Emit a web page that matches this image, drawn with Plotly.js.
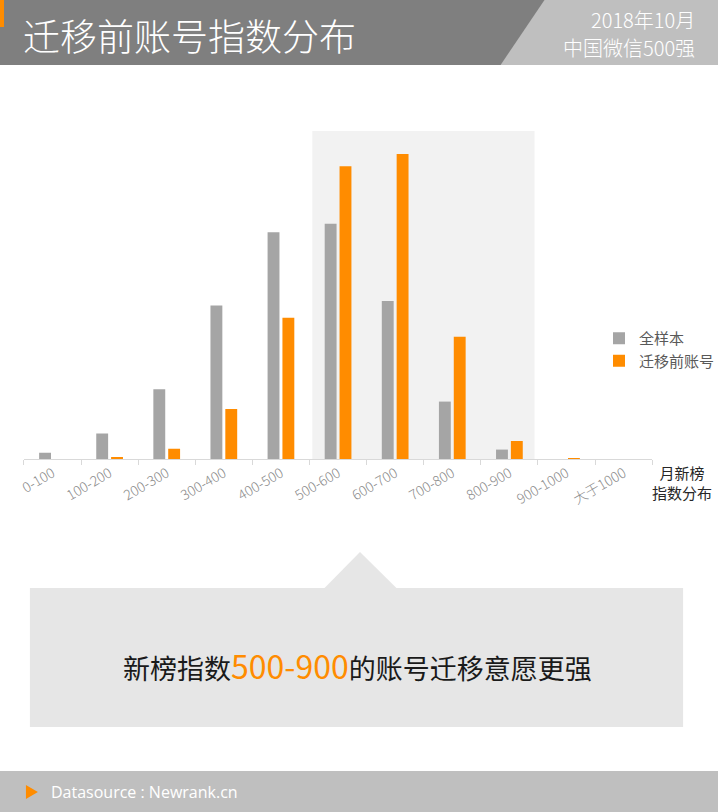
<!DOCTYPE html>
<html>
<head>
<meta charset="utf-8">
<script src="https://cdn.plot.ly/plotly-3.0.1.min.js"></script>
<style>
  html, body { margin: 0; padding: 0; background: #fff; overflow: hidden; }
  #chart { width: 720px; height: 812px; }
</style>
</head>
<body>
<div id="chart"></div>
<script>
// share of accounts by 新榜 index band (%)
const bands = ["0-100", "100-200", "200-300", "300-400", "400-500", "500-600",
               "600-700", "700-800", "800-900", "900-1000", "大于1000"];
const allSample = [0.67, 2.7, 7.4, 16.3, 24.1, 25.0, 16.8, 6.1, 1.0, 0, 0];
const migrated = [0, 0.2, 1.1, 5.3, 15.0, 31.1, 32.4, 13.0, 1.9, 0.1, 0];
const seriesNames = ["全样本", "迁移前账号"];

const W = 720, H = 812;
const px = x => x / W;
const py = y => 1 - y / H;

const cjk = '"Noto Sans CJK SC", "Microsoft YaHei", sans-serif';

const data = [
  {
    type: "bar", name: seriesNames[0], x: bands, y: allSample,
    marker: {color: "#a5a5a5"}, hoverinfo: "x+y"
  },
  {
    type: "bar", name: seriesNames[1], x: bands, y: migrated,
    marker: {color: "#ff8c00"}, hoverinfo: "x+y"
  }
];

// header / callout / footer decorations in paper coordinates
const poly = (pts) => "M " + pts.map(p => px(p[0]) + "," + py(p[1])).join(" L ") + " Z";

const shapes = [
  // highlighted bands 500-900
  {type: "rect", xref: "x", yref: "y", x0: 4.55, x1: 8.44, y0: 0, y1: 34.85,
   fillcolor: "#f2f2f2", line: {width: 0}, layer: "below"},
  // header
  {type: "rect", xref: "paper", yref: "paper", x0: 0, x1: 1, y0: py(65), y1: 1,
   fillcolor: "#7f7f7f", line: {width: 0}, layer: "below"},
  {type: "path", xref: "paper", yref: "paper",
   path: poly([[546, 0], [720, 0], [720, 65], [502, 65]]),
   fillcolor: "#bfbfbf", line: {width: 0}, layer: "below"},
  {type: "rect", xref: "paper", yref: "paper", x0: 0, x1: px(4), y0: py(27), y1: 1,
   fillcolor: "#ff8c00", line: {width: 0}, layer: "below"},
  // callout
  {type: "rect", xref: "paper", yref: "paper", x0: px(30), x1: px(685), y0: py(727), y1: py(588),
   fillcolor: "#e6e6e6", line: {width: 0}, layer: "below"},
  {type: "path", xref: "paper", yref: "paper",
   path: poly([[325, 588.5], [361, 552], [398, 588.5]]),
   fillcolor: "#e6e6e6", line: {width: 0}, layer: "below"},
  // footer
  {type: "rect", xref: "paper", yref: "paper", x0: 0, x1: 1, y0: 0, y1: py(771),
   fillcolor: "#bfbfbf", line: {width: 0}, layer: "below"},
  {type: "path", xref: "paper", yref: "paper",
   path: poly([[26, 785], [38, 792], [26, 799]]),
   fillcolor: "#ff8c00", line: {width: 0}, layer: "below"}
];

const annotations = [
  {xref: "paper", yref: "paper", x: px(21), y: py(35), xanchor: "left", yanchor: "middle",
   text: "迁移前账号指数分布", showarrow: false,
   font: {family: cjk, size: 37, color: "#ffffff", weight: 300}},
  {xref: "paper", yref: "paper", x: px(699), y: py(19), xanchor: "right", yanchor: "middle",
   text: "2018年10月", showarrow: false,
   font: {family: cjk, size: 20, color: "#ffffff", weight: 300}},
  {xref: "paper", yref: "paper", x: px(699), y: py(47), xanchor: "right", yanchor: "middle",
   text: "中国微信500强", showarrow: false,
   font: {family: cjk, size: 20, color: "#ffffff", weight: 300}},
  {xref: "paper", yref: "paper", x: px(684), y: py(482), xanchor: "center", yanchor: "middle",
   text: "月新榜<br>指数分布", showarrow: false, align: "center",
   font: {family: cjk, size: 15, color: "#262626"}},
  {xref: "paper", yref: "paper", x: px(358), y: py(665), xanchor: "center", yanchor: "middle",
   text: "新榜指数<span style='color:#ff8c00;font-size:32px'>500-900</span>的账号迁移意愿更强",
   showarrow: false,
   font: {family: cjk, size: 27, color: "#1a1a1a"}},
  {xref: "paper", yref: "paper", x: px(49), y: py(792), xanchor: "left", yanchor: "middle",
   text: "Datasource : Newrank.cn", showarrow: false,
   font: {family: '"Open Sans", sans-serif', size: 16, color: "#ffffff"}}
];

const layout = {
  width: W, height: H,
  margin: {l: 0, r: 0, t: 0, b: 0},
  paper_bgcolor: "#ffffff", plot_bgcolor: "rgba(0,0,0,0)",
  barmode: "group", bargap: 0.48, bargroupgap: 0.2,
  font: {family: cjk},
  xaxis: {
    domain: [px(24), px(654)],
    anchor: "y",
    showline: true, linecolor: "#d9d9d9", linewidth: 1,
    ticks: "outside", tickson: "boundaries", ticklen: 5, tickcolor: "#d9d9d9",
    tickangle: -30, tickfont: {family: cjk, size: 14, color: "#8c8c8c", weight: 300},
    showgrid: false, zeroline: false, fixedrange: true
  },
  yaxis: {
    domain: [py(459), py(129.6)],
    range: [0, 35],
    visible: false, showgrid: false, zeroline: false, fixedrange: true
  },
  showlegend: true,
  legend: {
    x: px(601), y: py(322), xanchor: "left", yanchor: "top",
    font: {family: cjk, size: 15, color: "#595959"},
    itemwidth: 30, tracegroupgap: 13, bgcolor: "rgba(0,0,0,0)"
  },
  shapes: shapes,
  annotations: annotations
};

Plotly.newPlot("chart", data, layout, {displayModeBar: false, staticPlot: true});
</script>
</body>
</html>
